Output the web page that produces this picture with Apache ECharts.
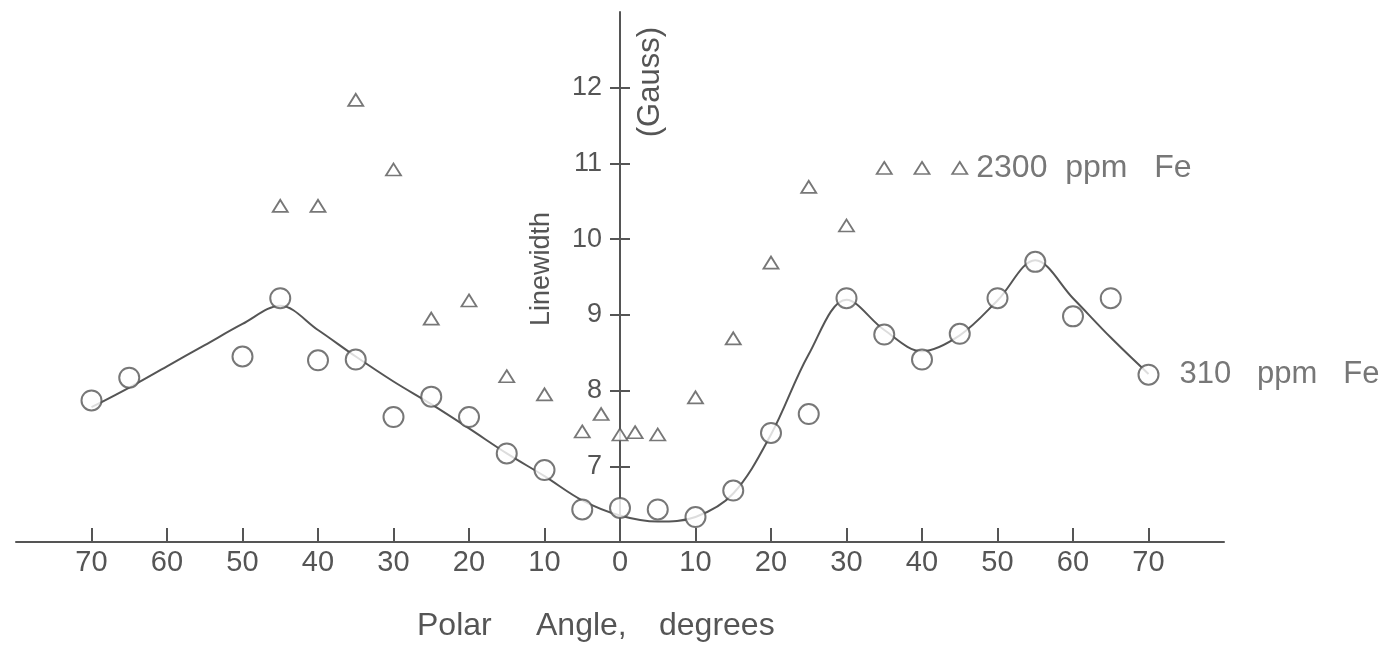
<!DOCTYPE html>
<html>
<head>
<meta charset="utf-8">
<script src="https://cdn.jsdelivr.net/npm/echarts@6/dist/echarts.min.js"></script>
<style>
  html, body { margin: 0; padding: 0; background: #fff; }
  #main { width: 1385px; height: 645px; }
</style>
</head>
<body>
<div id="main"></div>
<script>
// polar angle (deg), negative = left side of the plot
var circleAngles = [-70, -65, -50, -45, -40, -35, -30, -25, -20, -15, -10, -5, 0, 5, 10, 15, 20, 25, 30, 35, 40, 45, 50, 55, 60, 65, 70];
var circleWidths = [7.87, 8.17, 8.45, 9.22, 8.40, 8.41, 7.65, 7.92, 7.65, 7.17, 6.95, 6.43, 6.45, 6.43, 6.33, 6.68, 7.44, 7.69, 9.22, 8.74, 8.41, 8.75, 9.22, 9.70, 8.98, 9.22, 8.21];

var triangleAngles = [-45, -40, -35, -30, -25, -20, -15, -10, -5, -2.5, 0, 2, 5, 10, 15, 20, 25, 30, 35, 40, 45];
var triangleWidths = [10.44, 10.44, 11.84, 10.92, 8.95, 9.19, 8.19, 7.95, 7.46, 7.69, 7.42, 7.45, 7.42, 7.91, 8.69, 9.69, 10.69, 10.18, 10.94, 10.94, 10.94];

// hand drawn curve through the 310 ppm points
var curveAngles = [-70, -65, -60, -55, -50, -45, -40, -35, -30, -25, -20, -15, -10, -5, 0, 5, 10, 15, 20, 25, 30, 35, 40, 45, 50, 55, 60, 65, 70];
var curveWidths = [7.78, 8.04, 8.32, 8.6, 8.88, 9.12, 8.8, 8.45, 8.12, 7.82, 7.5, 7.17, 6.87, 6.55, 6.35, 6.27, 6.33, 6.64, 7.42, 8.48, 9.2, 8.8, 8.52, 8.73, 9.19, 9.72, 9.22, 8.7, 8.22];

var xTicks = [-70, -60, -50, -40, -30, -20, -10, 0, 10, 20, 30, 40, 50, 60, 70];
var yTicks = [7, 8, 9, 10, 11, 12];

var ink = '#555';
var font = 'Liberation Sans';

function pairs(xs, ys) {
  return xs.map(function (x, i) { return [x, ys[i]]; });
}

var circleData = pairs(circleAngles, circleWidths);
circleData[circleData.length - 1] = {
  value: circleData[circleData.length - 1],
  label: { show: true, position: 'right', distance: 20, formatter: '310   ppm   Fe' }
};
var triangleData = pairs(triangleAngles, triangleWidths);
triangleData[triangleData.length - 1] = {
  value: triangleData[triangleData.length - 1],
  label: { show: true, position: 'right', distance: 8, fontSize: 32, formatter: '2300  ppm   Fe' }
};

var myChart = echarts.init(document.getElementById('main'));

// the y axis stands at 0 deg: move it in from the grid's left edge
var gridLeft = 16, gridRight = 161;
var yShift = -((1385 - gridLeft - gridRight) / 2);

var option = {
  backgroundColor: '#fff',
  animation: false,
  textStyle: { fontFamily: font, color: ink },
  grid: { left: gridLeft, right: gridRight, top: 12, bottom: 103, outerBoundsMode: 'none' },
  xAxis: {
    type: 'value',
    min: -80,
    max: 80,
    interval: 10,
    splitLine: { show: false },
    axisLine: { onZero: false, lineStyle: { color: ink, width: 2 } },
    axisTick: { inside: true, length: 14, customValues: xTicks, lineStyle: { color: ink, width: 2 } },
    axisLabel: {
      customValues: xTicks,
      fontSize: 29, color: ink, margin: 6, fontFamily: font,
      formatter: function (v) { return String(Math.abs(v)); }
    }
  },
  yAxis: [{
    type: 'value',
    min: 6,
    max: 13,
    interval: 1,
    position: 'left',
    offset: yShift,
    splitLine: { show: false },
    axisLine: { onZero: false, lineStyle: { color: ink, width: 2 } },
    axisTick: { length: 10, customValues: yTicks, lineStyle: { color: ink, width: 2 } },
    axisLabel: { customValues: yTicks, fontSize: 27, color: ink, margin: 18, fontFamily: font }
  }, {
    type: 'value',
    min: 6,
    max: 13,
    interval: 1,
    position: 'left',
    offset: yShift,
    splitLine: { show: false },
    axisLine: { onZero: false, show: false },
    axisTick: { inside: true, length: 10, customValues: yTicks, lineStyle: { color: ink, width: 2 } },
    axisLabel: { show: false }
  }],
  graphic: [
    { type: 'text', left: 528, top: 212, rotation: Math.PI / 2,
      style: { text: 'Linewidth', fill: ink, font: '27px "Liberation Sans"' } },
    { type: 'text', left: 635, top: 27, rotation: Math.PI / 2,
      style: { text: '(Gauss)', fill: ink, font: '31px "Liberation Sans"' } },
    { type: 'text', left: 417, top: 610,
      style: { text: 'Polar', fill: ink, font: '32px "Liberation Sans"' } },
    { type: 'text', left: 536, top: 610,
      style: { text: 'Angle,', fill: ink, font: '32px "Liberation Sans"' } },
    { type: 'text', left: 659, top: 610,
      style: { text: 'degrees', fill: ink, font: '32px "Liberation Sans"' } }
  ],
  series: [
    {
      type: 'line',
      data: pairs(curveAngles, curveWidths),
      smooth: 0.35,
      showSymbol: false,
      lineStyle: { color: ink, width: 2 },
      z: 1
    },
    {
      type: 'scatter',
      data: circleData,
      symbol: 'circle',
      symbolSize: 20,
      itemStyle: { color: '#fff', borderColor: ink, borderWidth: 2 },
      label: { color: ink, fontSize: 31, fontFamily: font },
      z: 3
    },
    {
      type: 'scatter',
      data: triangleData,
      symbol: 'triangle',
      symbolSize: [15, 12],
      itemStyle: { color: '#fff', borderColor: ink, borderWidth: 1.8 },
      label: { color: ink, fontSize: 31, fontFamily: font },
      z: 3
    }
  ]
};

myChart.setOption(option);
</script>
</body>
</html>
